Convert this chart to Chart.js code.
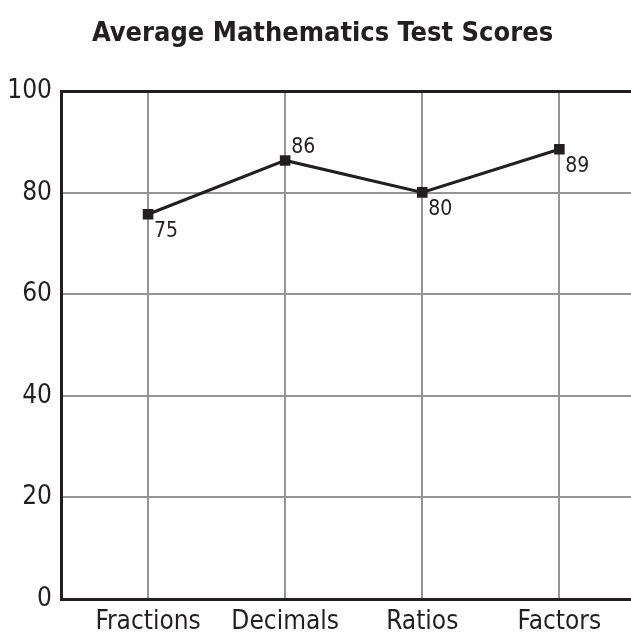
<!DOCTYPE html>
<html lang="en">
<head>
  <meta charset="UTF-8">
  <title>Average Mathematics Test Scores</title>
  <script src="https://cdn.jsdelivr.net/npm/chart.js"></script>
  <style>
    html, body { margin: 0; padding: 0; background: #fff; overflow: hidden; }
    #wrap { position: relative; width: 645px; height: 636px; }
  </style>
</head>
<body>
  <div id="wrap">
    <canvas id="scoreChart"></canvas>
  </div>

<script>
  const categories = ["Fractions", "Decimals", "Ratios", "Factors"]
  const scores = [75.8, 86.4, 80.1, 88.6]
  const scoreLabels = ["75", "86", "80", "89"]
  const yTicks = [0, 20, 40, 60, 80, 100]

  const ink = "#231f20"
  const grid = "#959597"
  const fontFamily = "'DejaVu Sans Condensed', 'Liberation Sans Narrow', sans-serif"

  // small labels next to each point, drawn from the dataset's own point positions
  const pointLabels = {
    id: "pointLabels",
    afterDatasetsDraw(chart) {
      const meta = chart.getDatasetMeta(0)
      const ctx = chart.ctx
      ctx.save()
      ctx.fillStyle = ink
      ctx.font = "21px " + fontFamily
      ctx.textAlign = "left"
      meta.data.forEach((pt, i) => {
        if (i === 1) {
          ctx.textBaseline = "bottom"
          ctx.fillText(scoreLabels[i], pt.x + 6, pt.y - 2)
        } else {
          ctx.textBaseline = "top"
          ctx.fillText(scoreLabels[i], pt.x + 6, pt.y + 7)
        }
      })
      ctx.restore()
    }
  }

  new Chart(document.getElementById("scoreChart"), {
    type: "line",
    data: {
      datasets: [{
        data: categories.map((c, i) => ({ x: i, y: scores[i] })),
        borderColor: ink,
        borderWidth: 3,
        pointStyle: "rect",
        pointRadius: 7.5,
        pointBackgroundColor: ink,
        pointBorderWidth: 0,
        tension: 0
      }]
    },
    options: {
      responsive: true,
      maintainAspectRatio: false,
      animation: false,
      layout: { padding: 0 },
      plugins: {
        legend: { display: false },
        tooltip: { enabled: false },
        title: {
          display: true,
          text: "Average Mathematics Test Scores",
          color: ink,
          font: { family: fontFamily, size: 27, weight: "bold" },
          padding: { top: 18, bottom: 41 }
        }
      },
      scales: {
        x: {
          type: "linear",
          min: -0.635,
          max: 3.57,
          afterBuildTicks(axis) {
            axis.ticks = categories.map((c, i) => ({ value: i }))
          },
          afterFit(axis) {
            axis.height = 37
          },
          ticks: {
            color: ink,
            font: { family: fontFamily, size: 26, lineHeight: 1 },
            padding: 10,
            maxRotation: 0,
            autoSkip: false,
            callback: (v) => categories[v]
          },
          grid: { color: grid, lineWidth: 2, drawTicks: false },
          border: { color: ink, width: 3 }
        },
        y: {
          min: 0,
          max: 100,
          afterBuildTicks(axis) {
            axis.ticks = yTicks.map(v => ({ value: v }))
          },
          afterFit(axis) {
            axis.width = 61
          },
          ticks: {
            color: ink,
            font: { family: fontFamily, size: 26 },
            padding: 9
          },
          grid: {
            color: (c) => c.tick && c.tick.value === 100 ? ink : grid,
            lineWidth: (c) => c.tick && c.tick.value === 100 ? 3 : 2,
            drawTicks: false
          },
          border: { color: ink, width: 3 }
        }
      }
    },
    plugins: [pointLabels]
  })
</script>
</body>
</html>
